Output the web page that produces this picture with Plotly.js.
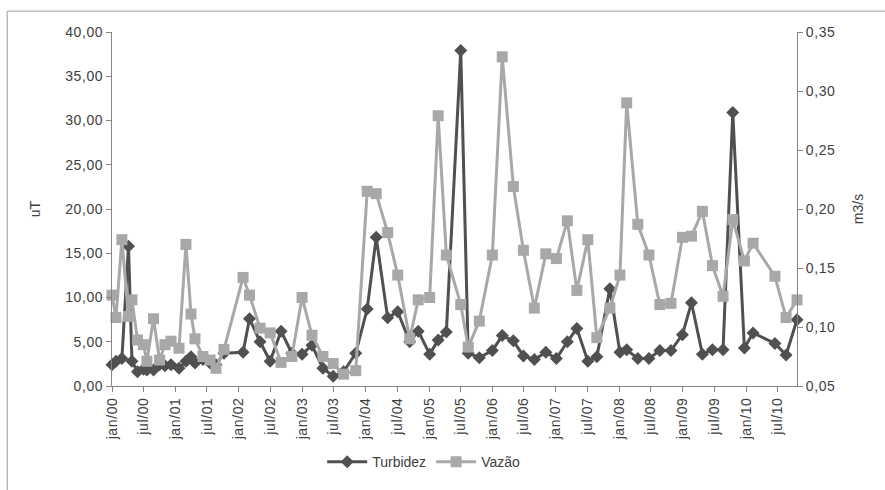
<!DOCTYPE html>
<html>
<head>
<meta charset="utf-8">
<script src="https://cdn.plot.ly/plotly-3.0.1.min.js"></script>
<style>
  html, body { margin: 0; padding: 0; background: #ffffff; }
  #chart { width: 885px; height: 490px; }
  /* spaced-out axis labels */
  #chart .xtick text, #chart .ytick text, #chart .y2tick text { letter-spacing: 0.6px; }
</style>
</head>
<body>
<div id="chart"></div>
<script>
// Sampling dates
const dates = [
  '2000-01-01','2000-01-24','2000-02-27','2000-04-05','2000-04-25','2000-05-27','2000-06-30','2000-07-20',
  '2000-08-27','2000-10-01','2000-11-01','2000-12-06','2001-01-21','2001-03-02','2001-03-31','2001-04-23',
  '2001-06-08','2001-07-19','2001-08-22','2001-10-07','2002-01-25','2002-03-03','2002-05-03','2002-06-30',
  '2002-09-01','2002-11-02','2002-12-31','2003-02-26','2003-04-30','2003-06-28','2003-08-27','2003-11-05',
  '2004-01-10','2004-03-02','2004-05-07','2004-07-04','2004-09-11','2004-10-30','2005-01-04','2005-02-22',
  '2005-04-10','2005-07-02','2005-08-14','2005-10-17','2005-12-31','2006-02-26','2006-05-01','2006-06-28',
  '2006-08-30','2006-11-04','2007-01-04','2007-03-08','2007-05-02','2007-07-04','2007-08-25','2007-11-08',
  '2008-01-05','2008-02-13','2008-04-17','2008-06-20','2008-08-22','2008-10-25','2008-12-30','2009-02-20',
  '2009-04-24','2009-06-21','2009-08-21','2009-10-16','2009-12-22','2010-02-10','2010-06-16','2010-08-19',
  '2010-10-21'
];

// Turbidez (uT), left axis
const turbidez = [
  2.4, 2.8, 3.1, 15.8, 2.8, 1.6, 1.9, 1.8,
  1.8, 2.4, 2.3, 2.4, 2.0, 2.8, 3.3, 2.6,
  3.0, 2.6, 2.4, 3.7, 3.8, 7.6, 5.0, 2.8,
  6.2, 3.7, 3.6, 4.6, 2.0, 1.1, 1.6, 3.7,
  8.7, 16.8, 7.7, 8.4, 5.0, 6.2, 3.6, 5.2,
  6.1, 37.9, 3.7, 3.2, 4.0, 5.7, 5.1, 3.4,
  3.0, 3.8, 3.1, 5.0, 6.5, 2.8, 3.3, 11.0,
  3.8, 4.1, 3.1, 3.1, 4.0, 4.0, 5.8, 9.4,
  3.6, 4.1, 4.1, 30.9, 4.3, 6.0, 4.8, 3.5,
  7.5
];

// Vazão (m3/s), right axis
const vazao = [
  0.127, 0.108, 0.174, 0.109, 0.123, 0.089, 0.085, 0.071,
  0.107, 0.072, 0.085, 0.088, 0.082, 0.170, 0.111, 0.090,
  0.075, 0.072, 0.065, 0.081, 0.142, 0.127, 0.099, 0.095,
  0.070, 0.075, 0.125, 0.093, 0.075, 0.069, 0.060, 0.063,
  0.215, 0.213, 0.180, 0.144, 0.090, 0.123, 0.125, 0.279,
  0.161, 0.119, 0.083, 0.105, 0.161, 0.329, 0.219, 0.165,
  0.116, 0.162, 0.158, 0.190, 0.131, 0.174, 0.091, 0.116,
  0.144, 0.290, 0.187, 0.161, 0.119, 0.120, 0.176, 0.177,
  0.198, 0.152, 0.126, 0.191, 0.156, 0.171, 0.143, 0.108,
  0.123
];

// Half-year axis ticks
const tickDates = [
  '2000-01-01','2000-07-01','2001-01-01','2001-07-01','2002-01-01','2002-07-01',
  '2003-01-01','2003-07-01','2004-01-01','2004-07-01','2005-01-01','2005-07-01',
  '2006-01-01','2006-07-01','2007-01-01','2007-07-01','2008-01-01','2008-07-01',
  '2009-01-01','2009-07-01','2010-01-01','2010-07-01'
];
const tickLabels = [
  'jan/00','jul/00','jan/01','jul/01','jan/02','jul/02',
  'jan/03','jul/03','jan/04','jul/04','jan/05','jul/05',
  'jan/06','jul/06','jan/07','jul/07','jan/08','jul/08',
  'jan/09','jul/09','jan/10','jul/10'
];

const axisColor = '#868686';
const textColor = '#404040';
const family = '"Liberation Sans", Arial, sans-serif';
const tickFont = { family: family, size: 14, color: textColor };

const traces = [
  {
    x: dates, y: turbidez, name: 'Turbidez', type: 'scatter', mode: 'lines+markers',
    line: { color: '#505050', width: 3 },
    marker: { symbol: 'diamond', size: 10, color: '#505050' },
    yaxis: 'y', hoverinfo: 'skip', cliponaxis: false
  },
  {
    x: dates, y: vazao, name: 'Vazão', type: 'scatter', mode: 'lines+markers',
    line: { color: '#a8a8a8', width: 3 },
    marker: { symbol: 'square', size: 11, color: '#a8a8a8' },
    yaxis: 'y2', hoverinfo: 'skip', cliponaxis: false
  }
];

const layout = {
  width: 885, height: 490,
  margin: { l: 112, r: 88, t: 32, b: 102 },
  paper_bgcolor: '#ffffff', plot_bgcolor: '#ffffff',
  font: { family: family, size: 14, color: textColor },
  separators: ',.',
  showlegend: true,
  legend: {
    orientation: 'h', x: 0.455, xanchor: 'center', y: -0.215, yanchor: 'middle',
    font: { family: family, size: 14, color: textColor },
    itemwidth: 40
  },
  xaxis: {
    type: 'date',
    range: ['2000-01-01', '2010-10-21'],
    tickmode: 'array', tickvals: tickDates, ticktext: tickLabels,
    tickangle: -90,
    showgrid: false, zeroline: false,
    showline: true, linecolor: axisColor, linewidth: 1,
    ticks: 'outside', ticklen: 5, tickcolor: axisColor,
    tickfont: tickFont
  },
  yaxis: {
    range: [0, 40], dtick: 5, tickformat: '.2f',
    showgrid: false, zeroline: false,
    showline: true, linecolor: axisColor, linewidth: 1,
    ticks: 'outside', ticklen: 5, tickcolor: axisColor,
    tickfont: tickFont,
    title: { text: 'uT', font: { family: family, size: 14, color: textColor }, standoff: 24 }
  },
  yaxis2: {
    range: [0.05, 0.35], dtick: 0.05, tickformat: '.2f',
    overlaying: 'y', side: 'right',
    showgrid: false, zeroline: false,
    showline: true, linecolor: axisColor, linewidth: 1,
    ticks: 'outside', ticklen: 5, tickcolor: axisColor,
    tickfont: tickFont,
    title: { text: 'm3/s', font: { family: family, size: 14, color: textColor }, standoff: 20 }
  },
  shapes: [
    // chart area frame
    {
      type: 'rect', xref: 'paper', yref: 'paper',
      x0: -0.153, x1: 1.13, y0: -0.30, y1: 1.059,
      line: { color: '#9a9a9a', width: 1 }, fillcolor: 'rgba(0,0,0,0)', layer: 'below'
    }
  ]
};

Plotly.newPlot('chart', traces, layout, { staticPlot: true, displayModeBar: false });
</script>
</body>
</html>
